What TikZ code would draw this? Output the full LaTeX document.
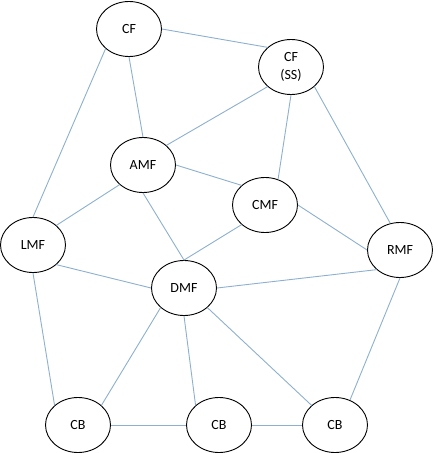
\documentclass[tikz,border=0pt]{standalone}
\usepackage{fontspec}
\setmainfont{Carlito}
\usepackage{tikz}
\usetikzlibrary{shapes.geometric}
\definecolor{edgeblue}{RGB}{140,176,206}

\begin{document}
\begin{tikzpicture}[
        x=1pt, y=-1pt,
        player/.style={ellipse, draw, fill=white, line width=0.9pt, minimum width=65pt, minimum height=55pt, inner sep=0pt, align=center, font=\fontsize{14}{18}\selectfont},
        link/.style={draw=edgeblue, line width=0.9pt}
    ]
    \useasboundingbox (0,0) rectangle (438,453);

    % midfield and forwards
    \node[player] (cf) at (129,29) {CF};
    \node[player] (cfss) at (291,67) {CF\\(SS)};
    \node[player] (amf) at (143,165) {AMF};
    \node[player] (cmf) at (265,205) {CMF};
    \node[player] (lmf) at (33,245) {LMF};
    \node[player] (rmf) at (400,250) {RMF};
    \node[player] (dmf) at (184,288) {DMF};

    % back line
    \node[player] (cb1) at (78,425) {CB};
    \node[player] (cb2) at (219,425) {CB};
    \node[player] (cb3) at (335,425) {CB};

    % passing links (attached at fixed points of each ellipse)
    \draw[link] (cf.east) -- (cfss.140);
    \draw[link] (cf.220) -- (lmf.north);
    \draw[link] (cf.south) -- (amf.north);
    \draw[link] (cfss.220) -- (amf.40);
    \draw[link] (cfss.south) -- (cmf.63);
    \draw[link] (cfss.320) -- (rmf.110);
    \draw[link] (amf.east) -- (cmf.140);
    \draw[link] (amf.220) -- (lmf.40);
    \draw[link] (amf.south) -- (dmf.north);
    \draw[link] (cmf.220) -- (dmf.north);
    \draw[link] (cmf.east) -- (rmf.west);
    \draw[link] (lmf.320) -- (dmf.west);
    \draw[link] (lmf.south) -- (cb1.140);
    \draw[link] (dmf.east) -- (rmf.220);
    \draw[link] (dmf.220) -- (cb1.40);
    \draw[link] (dmf.south) -- (cb2.140);
    \draw[link] (dmf.320) -- (cb3.140);
    \draw[link] (rmf.south) -- (cb3.59);
    \draw[link] (cb1.east) -- (cb2.west);
    \draw[link] (cb2.east) -- (cb3.west);

\end{tikzpicture}
\end{document}
